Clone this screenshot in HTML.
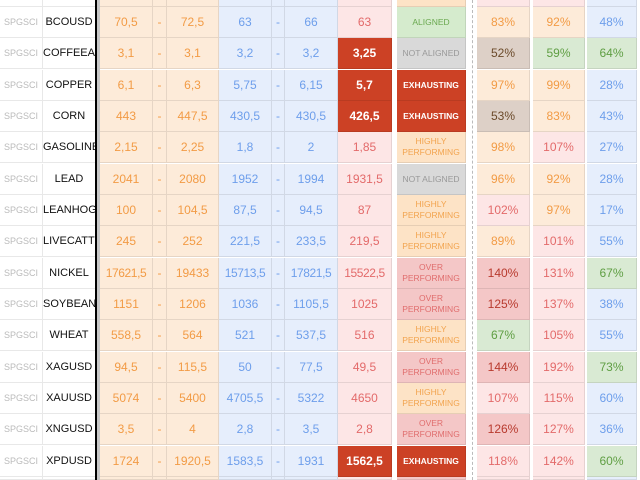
<!DOCTYPE html>
<html style="overflow:hidden;height:480px"><head><meta charset="utf-8"><style>
body{margin:0;width:640px;height:480px;overflow:hidden;background:#fff;font-family:"Liberation Sans",sans-serif;position:relative}
.r{position:absolute;left:0;width:640px;height:31px}
.r>div{position:absolute;top:0;height:31px;display:flex;align-items:center;justify-content:center;text-align:center;box-sizing:border-box;border-right:1px solid rgba(0,0,0,.09);border-bottom:1px solid rgba(0,0,0,.09);font-size:12px;line-height:12px;white-space:nowrap;overflow:hidden}
.c1{left:0;width:43px;color:#bbb;font-size:9px!important}
.r>.c2{left:43px;width:53px;color:#111;font-size:11px;display:block;line-height:31px;text-align:center}
.c3{left:100px;width:53px}.c4{left:153px;width:14px}.c5{left:167px;width:52px}
.c6{left:219px;width:53px}.c7{left:272px;width:13px}.c8{left:285px;width:53px}
.c9{left:338px;width:54px}.c10{left:397px;width:69px;font-size:8.5px!important;line-height:11px!important;white-space:normal!important}
.c11{left:477px;width:53px}.c12{left:533px;width:52px}.c13{left:587px;width:50px}
.n{letter-spacing:-0.4px}
.o{background:#fdebd9;color:#f29b45}.b{background:#e6eefc;color:#6d9eeb}.p{background:#fde6e6;color:#e36a6a}
.x{background:#cc4125;color:#fff;font-weight:bold}.xs{background:#cc4125;color:#fff;font-weight:bold}
.hp{background:#fde3c6;color:#f2a44f}.op{background:#f4c7c7;color:#e06e6e}.al{background:#d5ebcd;color:#6aa84f}.na{background:#d9d9d9;color:#999}
.g{background:#d9ead3;color:#5f9e43}.t{background:#ddd0c7;color:#6b4a2a}.dp{background:#f4c7c7;color:#b83a2e}
#vl{position:absolute;left:95px;top:0;width:2px;height:480px;background:#000}
#vs{position:absolute;left:97px;top:0;width:3px;height:480px;background:#c8c8c8}
#dl{position:absolute;left:472px;top:0;width:0;height:480px;border-left:1px dashed #bbb}
</style></head><body>
<div class="r" style="top:-24px"><div class="c1"></div><div class="c2"></div><div class="c3 o"></div><div class="c4 o"></div><div class="c5 o"></div><div class="c6 b"></div><div class="c7 b"></div><div class="c8 b"></div><div class="c9 p"></div><div class="c10 hp">PERFORMING</div><div class="c11 p"></div><div class="c12 p"></div><div class="c13 b"></div></div>
<div class="r" style="top:7px"><div class="c1">SPGSCI</div><div class="c2">BCOUSD</div><div class="c3 o">70,5</div><div class="c4 o">-</div><div class="c5 o">72,5</div><div class="c6 b">63</div><div class="c7 b">-</div><div class="c8 b">66</div><div class="c9 p">63</div><div class="c10 al">ALIGNED</div><div class="c11 o">83%</div><div class="c12 o">92%</div><div class="c13 b">48%</div></div>
<div class="r" style="top:38px"><div class="c1">SPGSCI</div><div class="c2">COFFEEARA</div><div class="c3 o">3,1</div><div class="c4 o">-</div><div class="c5 o">3,1</div><div class="c6 b">3,2</div><div class="c7 b">-</div><div class="c8 b">3,2</div><div class="c9 x">3,25</div><div class="c10 na">NOT ALIGNED</div><div class="c11 t">52%</div><div class="c12 g">59%</div><div class="c13 g">64%</div></div>
<div class="r" style="top:70px"><div class="c1">SPGSCI</div><div class="c2">COPPER</div><div class="c3 o">6,1</div><div class="c4 o">-</div><div class="c5 o">6,3</div><div class="c6 b">5,75</div><div class="c7 b">-</div><div class="c8 b">6,15</div><div class="c9 x">5,7</div><div class="c10 xs">EXHAUSTING</div><div class="c11 o">97%</div><div class="c12 o">99%</div><div class="c13 b">28%</div></div>
<div class="r" style="top:101px"><div class="c1">SPGSCI</div><div class="c2">CORN</div><div class="c3 o">443</div><div class="c4 o">-</div><div class="c5 o">447,5</div><div class="c6 b">430,5</div><div class="c7 b">-</div><div class="c8 b">430,5</div><div class="c9 x">426,5</div><div class="c10 xs">EXHAUSTING</div><div class="c11 t">53%</div><div class="c12 o">83%</div><div class="c13 b">43%</div></div>
<div class="r" style="top:132px"><div class="c1">SPGSCI</div><div class="c2">GASOLINE</div><div class="c3 o">2,15</div><div class="c4 o">-</div><div class="c5 o">2,25</div><div class="c6 b">1,8</div><div class="c7 b">-</div><div class="c8 b">2</div><div class="c9 p">1,85</div><div class="c10 hp">HIGHLY<br>PERFORMING</div><div class="c11 o">98%</div><div class="c12 p">107%</div><div class="c13 b">27%</div></div>
<div class="r" style="top:164px"><div class="c1">SPGSCI</div><div class="c2">LEAD</div><div class="c3 o">2041</div><div class="c4 o">-</div><div class="c5 o">2080</div><div class="c6 b">1952</div><div class="c7 b">-</div><div class="c8 b">1994</div><div class="c9 p">1931,5</div><div class="c10 na">NOT ALIGNED</div><div class="c11 o">96%</div><div class="c12 o">92%</div><div class="c13 b">28%</div></div>
<div class="r" style="top:195px"><div class="c1">SPGSCI</div><div class="c2">LEANHOGS</div><div class="c3 o">100</div><div class="c4 o">-</div><div class="c5 o">104,5</div><div class="c6 b">87,5</div><div class="c7 b">-</div><div class="c8 b">94,5</div><div class="c9 p">87</div><div class="c10 hp">HIGHLY<br>PERFORMING</div><div class="c11 p">102%</div><div class="c12 o">97%</div><div class="c13 b">17%</div></div>
<div class="r" style="top:226px"><div class="c1">SPGSCI</div><div class="c2">LIVECATTLE</div><div class="c3 o">245</div><div class="c4 o">-</div><div class="c5 o">252</div><div class="c6 b">221,5</div><div class="c7 b">-</div><div class="c8 b">233,5</div><div class="c9 p">219,5</div><div class="c10 hp">HIGHLY<br>PERFORMING</div><div class="c11 o">89%</div><div class="c12 p">101%</div><div class="c13 b">55%</div></div>
<div class="r" style="top:258px"><div class="c1">SPGSCI</div><div class="c2">NICKEL</div><div class="c3 o n">17621,5</div><div class="c4 o">-</div><div class="c5 o">19433</div><div class="c6 b n">15713,5</div><div class="c7 b">-</div><div class="c8 b n">17821,5</div><div class="c9 p n">15522,5</div><div class="c10 op">OVER<br>PERFORMING</div><div class="c11 dp">140%</div><div class="c12 p">131%</div><div class="c13 g">67%</div></div>
<div class="r" style="top:289px"><div class="c1">SPGSCI</div><div class="c2">SOYBEAN</div><div class="c3 o">1151</div><div class="c4 o">-</div><div class="c5 o">1206</div><div class="c6 b">1036</div><div class="c7 b">-</div><div class="c8 b">1105,5</div><div class="c9 p">1025</div><div class="c10 op">OVER<br>PERFORMING</div><div class="c11 dp">125%</div><div class="c12 p">137%</div><div class="c13 b">38%</div></div>
<div class="r" style="top:320px"><div class="c1">SPGSCI</div><div class="c2">WHEAT</div><div class="c3 o">558,5</div><div class="c4 o">-</div><div class="c5 o">564</div><div class="c6 b">521</div><div class="c7 b">-</div><div class="c8 b">537,5</div><div class="c9 p">516</div><div class="c10 hp">HIGHLY<br>PERFORMING</div><div class="c11 g">67%</div><div class="c12 p">105%</div><div class="c13 b">55%</div></div>
<div class="r" style="top:352px"><div class="c1">SPGSCI</div><div class="c2">XAGUSD</div><div class="c3 o">94,5</div><div class="c4 o">-</div><div class="c5 o">115,5</div><div class="c6 b">50</div><div class="c7 b">-</div><div class="c8 b">77,5</div><div class="c9 p">49,5</div><div class="c10 op">OVER<br>PERFORMING</div><div class="c11 dp">144%</div><div class="c12 p">192%</div><div class="c13 g">73%</div></div>
<div class="r" style="top:383px"><div class="c1">SPGSCI</div><div class="c2">XAUUSD</div><div class="c3 o">5074</div><div class="c4 o">-</div><div class="c5 o">5400</div><div class="c6 b">4705,5</div><div class="c7 b">-</div><div class="c8 b">5322</div><div class="c9 p">4650</div><div class="c10 hp">HIGHLY<br>PERFORMING</div><div class="c11 p">107%</div><div class="c12 p">115%</div><div class="c13 b">60%</div></div>
<div class="r" style="top:414px"><div class="c1">SPGSCI</div><div class="c2">XNGUSD</div><div class="c3 o">3,5</div><div class="c4 o">-</div><div class="c5 o">4</div><div class="c6 b">2,8</div><div class="c7 b">-</div><div class="c8 b">3,5</div><div class="c9 p">2,8</div><div class="c10 op">OVER<br>PERFORMING</div><div class="c11 dp">126%</div><div class="c12 p">127%</div><div class="c13 b">36%</div></div>
<div class="r" style="top:446px"><div class="c1">SPGSCI</div><div class="c2">XPDUSD</div><div class="c3 o">1724</div><div class="c4 o">-</div><div class="c5 o">1920,5</div><div class="c6 b">1583,5</div><div class="c7 b">-</div><div class="c8 b">1931</div><div class="c9 x">1562,5</div><div class="c10 xs">EXHAUSTING</div><div class="c11 p">118%</div><div class="c12 p">142%</div><div class="c13 g">60%</div></div>
<div class="r" style="top:477px;height:3px"><div class="c1" style="height:3px"></div><div class="c2" style="height:3px"></div><div class="c3 o" style="height:3px"></div><div class="c4 o" style="height:3px"></div><div class="c5 o" style="height:3px"></div><div class="c6 b" style="height:3px"></div><div class="c7 b" style="height:3px"></div><div class="c8 b" style="height:3px"></div><div class="c9 p" style="height:3px"></div><div class="c10 op" style="height:3px"></div><div class="c11 p" style="height:3px"></div><div class="c12 p" style="height:3px"></div><div class="c13 b" style="height:3px"></div></div>
<div id="vl"></div><div id="vs"></div><div id="dl"></div>
</body></html>
